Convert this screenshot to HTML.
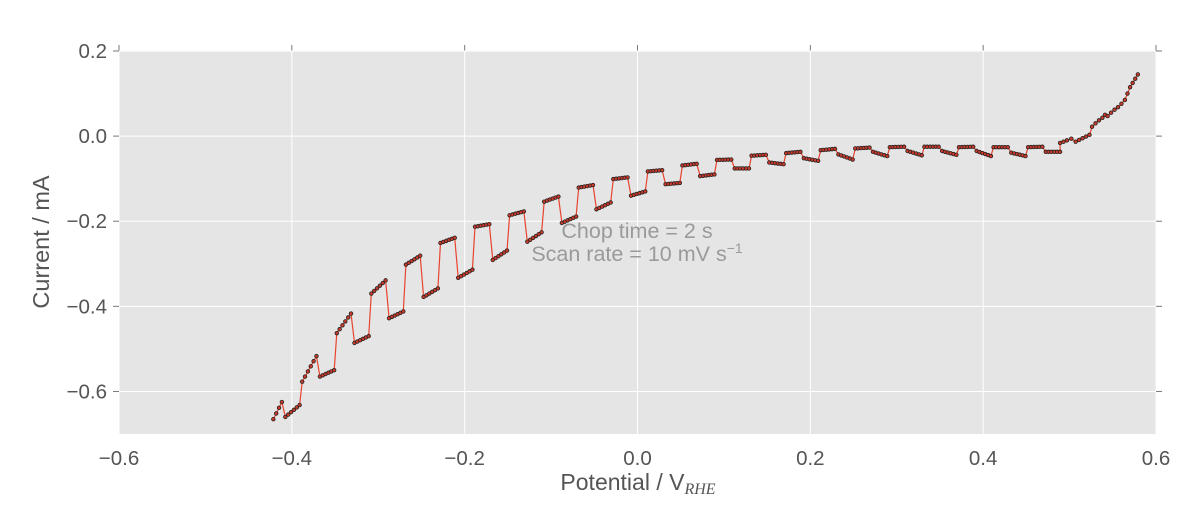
<!DOCTYPE html>
<html><head><meta charset="utf-8"><style>
body{margin:0;background:#fff;}
svg text{font-family:"Liberation Sans","DejaVu Sans",sans-serif;}
</style></head><body>
<svg id="chart" width="1180" height="511" xmlns="http://www.w3.org/2000/svg"></svg>
<script>
// ---- data ----
const cycleStart = [-0.428,-0.388,-0.348,-0.308,-0.268,-0.228,-0.188,-0.148,-0.108,-0.068,-0.028,0.012,0.052,0.092,0.132,0.172,0.212,0.252,0.292,0.332,0.372,0.412,0.452];
const lightStartI = [-0.692,-0.577,-0.463,-0.370,-0.302,-0.251,-0.213,-0.186,-0.154,-0.121,-0.101,-0.083,-0.069,-0.056,-0.046,-0.040,-0.033,-0.029,-0.026,-0.025,-0.026,-0.026,-0.026];
const lightEndI   = [-0.625,-0.517,-0.417,-0.339,-0.281,-0.239,-0.207,-0.177,-0.142,-0.115,-0.097,-0.080,-0.065,-0.055,-0.044,-0.037,-0.030,-0.027,-0.025,-0.025,-0.025,-0.026,-0.025];
const darkStartI  = [-0.660,-0.565,-0.486,-0.428,-0.378,-0.333,-0.291,-0.248,-0.204,-0.172,-0.140,-0.113,-0.094,-0.076,-0.062,-0.052,-0.043,-0.037,-0.035,-0.035,-0.035,-0.039,-0.037];
const darkEndI    = [-0.632,-0.550,-0.470,-0.412,-0.358,-0.314,-0.269,-0.226,-0.189,-0.156,-0.130,-0.110,-0.090,-0.076,-0.066,-0.058,-0.055,-0.047,-0.045,-0.044,-0.047,-0.047,-0.037];
const tailE = [0.489,0.493,0.497,0.502,0.507,0.511,0.515,0.519,0.523,0.526,0.530,0.534,0.538,0.541,0.544,0.548,0.552,0.556,0.560,0.564,0.567,0.570,0.573,0.576,0.579];
const tailI = [-0.016,-0.013,-0.010,-0.006,-0.013,-0.009,-0.005,-0.001,0.003,0.022,0.030,0.037,0.043,0.050,0.047,0.055,0.062,0.068,0.076,0.085,0.100,0.115,0.125,0.135,0.145];
const xTicks = [-0.6,-0.4,-0.2,0.0,0.2,0.4,0.6];
const yTicks = [0.2,0.0,-0.2,-0.4,-0.6];
const xTickLabels = ["\u22120.6","\u22120.4","\u22120.2","0.0","0.2","0.4","0.6"];
const yTickLabels = ["0.2","0.0","\u22120.2","\u22120.4","\u22120.6"];

// ---- axes ----
const L=119,R=1156,T=51,B=434;
const xMin=-0.6,xMax=0.6,yMin=-0.7,yMax=0.2;
const sx=v=>L+(v-xMin)/(xMax-xMin)*(R-L);
const sy=v=>B-(v-yMin)/(yMax-yMin)*(B-T);
const NS="http://www.w3.org/2000/svg";
const svg=document.getElementById('chart');
function mk(tag,attrs,parent){const e=document.createElementNS(NS,tag);for(const k in attrs)e.setAttribute(k,attrs[k]);(parent||svg).appendChild(e);return e;}

const bg=mk('rect',{x:L,y:T,width:R-L,height:B-T,fill:'#e5e5e5'});



xTicks.forEach((v,i)=>{
  const g=mk('line',{x1:sx(v),x2:sx(v),y1:T,y2:B,stroke:'#fff','stroke-width':1});
  
  
  const tk=mk('line',{x1:sx(v),x2:sx(v),y1:T-6,y2:T,stroke:'#777','stroke-width':1});
  
  
  const t=mk('text',{x:sx(v),y:465,'text-anchor':'middle','font-size':20.5,fill:'#555'});
  t.textContent=xTickLabels[i];
  
  
});
yTicks.forEach((v,i)=>{
  const g=mk('line',{x1:L,x2:R,y1:sy(v),y2:sy(v),stroke:'#fff','stroke-width':1});
  
  
  const tk=mk('line',{x1:L-6,x2:L,y1:sy(v),y2:sy(v),stroke:'#777','stroke-width':1});
  
  
  const tk2=mk('line',{x1:R,x2:R+6,y1:sy(v),y2:sy(v),stroke:'#777','stroke-width':1});
  
  
  const t=mk('text',{x:L-12,y:sy(v)+7,'text-anchor':'end','font-size':20.5,fill:'#555'});
  t.textContent=yTickLabels[i];
  
  
});

// ---- series points ----
const pts=[];
cycleStart.forEach((p,k)=>{
  for(let t=0;t<6;t++){const e=p+0.0033*t;if(e<-0.4215)continue;pts.push([e,lightStartI[k]+(lightEndI[k]-lightStartI[k])*t/5]);}
  for(let t=0;t<6;t++){const e=p+0.0205+0.0033*t;pts.push([e,darkStartI[k]+(darkEndI[k]-darkStartI[k])*t/5]);}
});
tailE.forEach((e,i)=>pts.push([e,tailI[i]]));

const line=mk('polyline',{points:pts.map(p=>sx(p[0]).toFixed(1)+','+sy(p[1]).toFixed(1)).join(' '),fill:'none',stroke:'#e8432e','stroke-width':1.2});


pts.forEach(p=>{
  const c=mk('circle',{cx:sx(p[0]),cy:sy(p[1]),r:1.8,fill:'#c8392a',stroke:'#222','stroke-width':0.8});
  
  
});
</script>
<svg style="position:absolute;left:0;top:0" width="1180" height="511" xmlns="http://www.w3.org/2000/svg">
<text x="637" y="238" text-anchor="middle" font-size="21.5" fill="#9a9a9a" font-family="Liberation Sans, sans-serif">Chop time = 2 s</text>
<text x="637" y="261" text-anchor="middle" font-size="21.5" fill="#9a9a9a" font-family="Liberation Sans, sans-serif">Scan rate = 10 mV s<tspan font-size="14" dy="-8">−1</tspan></text>
<text x="638" y="490" text-anchor="middle" font-size="23" fill="#555" font-family="Liberation Sans, sans-serif">Potential / V<tspan font-family="Liberation Serif, serif" font-style="italic" font-size="16" dy="4">RHE</tspan></text>
<text transform="translate(49,242) rotate(-90)" text-anchor="middle" font-size="23.5" fill="#555" font-family="Liberation Sans, sans-serif">Current / mA</text>
</svg>
</body></html>
